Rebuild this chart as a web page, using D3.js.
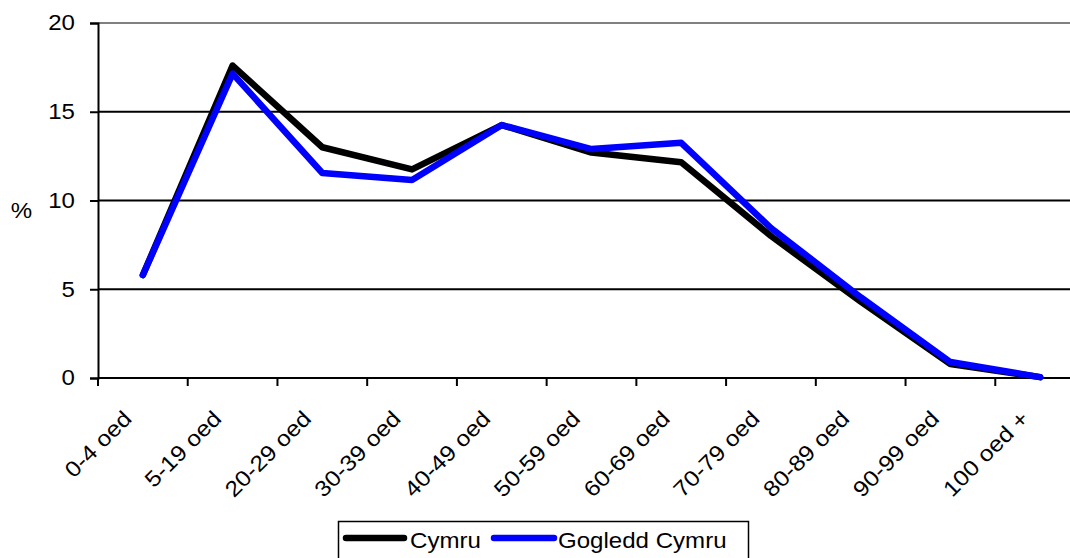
<!DOCTYPE html>
<html><head><meta charset="utf-8">
<script src="https://cdn.jsdelivr.net/npm/d3@7"></script>
<style>body{margin:0;background:#fff}svg{display:block;font-family:"Liberation Sans",Arial,sans-serif}</style>
</head><body>
<svg id="c" width="1070" height="558"></svg>
<script>
const categories = ["0-4 oed","5-19 oed","20-29 oed","30-39 oed","40-49 oed","50-59 oed","60-69 oed","70-79 oed","80-89 oed","90-99 oed","100 oed +"];
const cymru = [5.8,17.6,13.0,11.75,14.25,12.7,12.15,8.0,4.3,0.78,0.05];
const gogledd = [5.8,17.15,11.55,11.15,14.25,12.9,13.25,8.45,4.55,0.9,0.05];
const yTicks = [0,5,10,15,20];
const seriesNames = ["Cymru","Gogledd Cymru"];
const seriesColors = ["#000000","#0000ff"];

const FS = 21.5, SX = 1.12;
const svg = d3.select("#c");
const L = 98, R = 1085, T = 23, B = 378;
const x = d3.scaleBand().domain(categories).range([L, R]).padding(0);
const y = d3.scaleLinear().domain([0,20]).range([B, T]);

// gridlines
svg.append("g").selectAll("line").data(yTicks.filter(d=>d>0)).join("line")
  .attr("x1", L).attr("x2", R).attr("y1", d=>y(d)).attr("y2", d=>y(d))
  .attr("stroke", d=> d===20 ? "#808080" : "#000").attr("stroke-width", 2);

// y axis
const yAxis = svg.append("g").attr("transform", `translate(${L},0)`)
  .call(d3.axisLeft(y).tickValues(yTicks).tickSize(8).tickPadding(15));
yAxis.select(".domain").attr("stroke","#000").attr("stroke-width",2);
yAxis.selectAll(".tick line").attr("stroke","#000").attr("stroke-width",2);
yAxis.selectAll("text").attr("x",0).attr("transform",`translate(-23,0) scale(${SX},1)`)
  .attr("font-size",FS).attr("fill","#000").attr("font-family","Liberation Sans, Arial, sans-serif");

// x axis: ticks at category boundaries
const bounds = categories.map(c=>x(c)).concat([R]);
const xAxis = svg.append("g");
xAxis.append("line").attr("x1",L).attr("x2",R).attr("y1",B).attr("y2",B).attr("stroke","#000").attr("stroke-width",2);
xAxis.selectAll("line.t").data(bounds).join("line").attr("class","t")
  .attr("x1",d=>d).attr("x2",d=>d).attr("y1",B).attr("y2",B+8).attr("stroke","#000").attr("stroke-width",2);
xAxis.selectAll("text").data(categories).join("text")
  .attr("transform", d=>`translate(${x(d)+x.bandwidth()/2-10},${B+42}) rotate(-45) scale(${SX},1)`)
  .attr("text-anchor","end").attr("font-size",FS+0.5).attr("fill","#000").text(d=>d);

// y title
svg.append("text").attr("transform",`translate(21.5,218) scale(${SX},1)`).attr("text-anchor","middle").attr("font-size",FS).text("%");

// lines
const line = d3.line().x((d,i)=>x(categories[i])+x.bandwidth()/2).y(d=>y(d));
[cymru, gogledd].forEach((s,i)=>{
  svg.append("path").datum(s).attr("d",line).attr("fill","none")
    .attr("stroke",seriesColors[i]).attr("stroke-width",6.5).attr("stroke-linejoin","round").attr("stroke-linecap","round");
});

// legend
const lg = svg.append("g");
lg.append("rect").attr("x",338.5).attr("y",521.5).attr("width",410).attr("height",50).attr("fill","#fff").attr("stroke","#000").attr("stroke-width",1.5);
const legX = [[346,404,410],[494,554,558]];
seriesNames.forEach((n,i)=>{
  lg.append("line").attr("x1",legX[i][0]).attr("x2",legX[i][1]).attr("y1",538).attr("y2",538)
    .attr("stroke",seriesColors[i]).attr("stroke-width",6.5).attr("stroke-linecap","round");
  lg.append("text").attr("transform",`translate(${legX[i][2]},548) scale(${SX},1)`).attr("font-size",FS).text(n);
});
</script>
</body></html>
